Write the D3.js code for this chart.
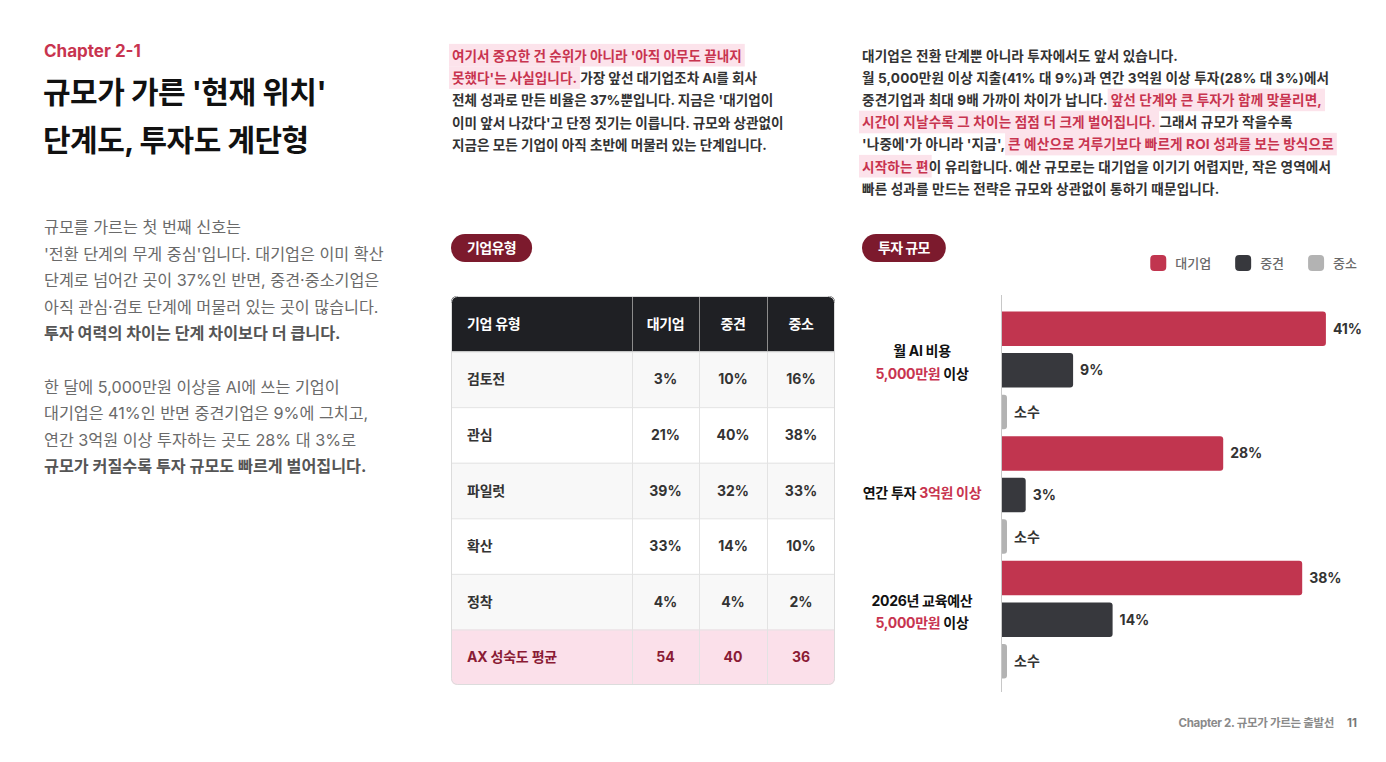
<!DOCTYPE html>
<html lang="ko">
<head>
<meta charset="utf-8">
<title>규모가 가른 '현재 위치'</title>
<script src="https://d3js.org/d3.v7.min.js"></script>
<style>
  body { margin: 0; background: #fff; }
  svg { display: block; font-family: Inter, "Noto Sans CJK KR", sans-serif; }
  text { white-space: pre; }
</style>
</head>
<body>
<svg id="page" width="1386" height="762"></svg>
<script>
// ---- 데이터 ----
var stages = ["검토전", "관심", "파일럿", "확산", "정착"];
var firmTypes = ["대기업", "중견", "중소"];
var shareLarge = [3, 21, 39, 33, 4];
var shareMid = [10, 40, 32, 14, 4];
var shareSmall = [16, 38, 33, 10, 2];
var maturityAvg = [54, 40, 36];

var investItems = ["월 AI 비용 5,000만원 이상", "연간 투자 3억원 이상", "2026년 교육예산 5,000만원 이상"];
var investLarge = [41, 28, 38];
var investMid = [9, 3, 14];
var investSmall = [null, null, null]; // 원문 표기: "소수"

var colors = { "대기업": "#C1354F", "중견": "#37383D", "중소": "#B3B3B3" };
var RED = "#C8344F", WINE = "#7C1A2D";

var svg = d3.select("#page");

// 스타일: n 일반, b 굵게, h 강조(배경), r 빨강
var styles = {
  n: { weight: 400, fill: "#6a6a6a" },
  b: { weight: 700, fill: "#555" },
  m: { weight: 700, fill: "#333" },
  h: { weight: 700, fill: RED, bg: "#FCE3EB" },
  k: { weight: 700, fill: "#111" },
  r: { weight: 700, fill: RED }
};

// 한 줄에 여러 스타일 조각을 이어 붙인다
function richLine(g, x, y, segs, size, ls) {
  var cx = x;
  segs.forEach(function(s) {
    var st = styles[s[1]];
    var t = g.append("text")
      .attr("x", cx).attr("y", y)
      .attr("font-size", size)
      .attr("font-weight", st.weight)
      .attr("letter-spacing", ls || 0)
      .attr("fill", st.fill)
      .text(s[0]);
    var w = t.node().getComputedTextLength();
    if (st.bg) {
      g.insert("rect", ":first-child")
        .attr("x", cx - 3).attr("y", y - size - 3)
        .attr("width", w + 6).attr("height", size + 9)
        .attr("fill", st.bg);
    }
    cx += w;
  });
  return cx - x;
}

function block(x, y0, lh, lines, size, ls) {
  var g = svg.append("g");
  lines.forEach(function(segs, i) {
    if (segs) richLine(g, x, y0 + i * lh, segs, size, ls);
  });
  return g;
}

// ---- 왼쪽 제목과 본문 ----
svg.append("text").attr("x", 44).attr("y", 57)
  .attr("font-size", 17).attr("font-weight", 700).attr("fill", RED)
  .text("Chapter 2-1");
svg.append("text").attr("x", 43).attr("y", 103)
  .attr("font-size", 30).attr("font-weight", 700).attr("fill", "#111").attr("letter-spacing", -0.5)
  .text("규모가 가른 '현재 위치'");
svg.append("text").attr("x", 43).attr("y", 151)
  .attr("font-size", 30).attr("font-weight", 700).attr("fill", "#111").attr("letter-spacing", -0.5)
  .text("단계도, 투자도 계단형");

block(44, 233, 26.6, [
  [["규모를 가르는 첫 번째 신호는", "n"]],
  [["'전환 단계의 무게 중심'입니다. 대기업은 이미 확산", "n"]],
  [["단계로 넘어간 곳이 37%인 반면, 중견·중소기업은", "n"]],
  [["아직 관심·검토 단계에 머물러 있는 곳이 많습니다.", "n"]],
  [["투자 여력의 차이는 단계 차이보다 더 큽니다.", "b"]],
  null,
  [["한 달에 5,000만원 이상을 AI에 쓰는 기업이", "n"]],
  [["대기업은 41%인 반면 중견기업은 9%에 그치고,", "n"]],
  [["연간 3억원 이상 투자하는 곳도 28% 대 3%로", "n"]],
  [["규모가 커질수록 투자 규모도 빠르게 벌어집니다.", "b"]]
], 16.2, 0);

// ---- 가운데 / 오른쪽 상단 본문 ----
block(452, 60.5, 22.4, [
  [["여기서 중요한 건 순위가 아니라 '아직 아무도 끝내지", "h"]],
  [["못했다'는 사실입니다.", "h"], [" 가장 앞선 대기업조차 AI를 회사", "m"]],
  [["전체 성과로 만든 비율은 37%뿐입니다. 지금은 '대기업이", "m"]],
  [["이미 앞서 나갔다'고 단정 짓기는 이릅니다. 규모와 상관없이", "m"]],
  [["지금은 모든 기업이 아직 초반에 머물러 있는 단계입니다.", "m"]]
], 13.6, 0);

block(862, 61, 22.1, [
  [["대기업은 전환 단계뿐 아니라 투자에서도 앞서 있습니다.", "m"]],
  [["월 5,000만원 이상 지출(41% 대 9%)과 연간 3억원 이상 투자(28% 대 3%)에서", "m"]],
  [["중견기업과 최대 9배 가까이 차이가 납니다. ", "m"], ["앞선 단계와 큰 투자가 함께 맞물리면,", "h"]],
  [["시간이 지날수록 그 차이는 점점 더 크게 벌어집니다.", "h"], [" 그래서 규모가 작을수록", "m"]],
  [["'나중에'가 아니라 '지금', ", "m"], ["큰 예산으로 겨루기보다 빠르게 ROI 성과를 보는 방식으로", "h"]],
  [["시작하는 편", "h"], ["이 유리합니다. 예산 규모로는 대기업을 이기기 어렵지만, 작은 영역에서", "m"]],
  [["빠른 성과를 만드는 전략은 규모와 상관없이 통하기 때문입니다.", "m"]]
], 13.6, 0.15);

// ---- 알약 라벨 ----
function pill(x, label) {
  var g = svg.append("g");
  var t = g.append("text").attr("x", x + 16).attr("y", 253)
    .attr("font-size", 14).attr("font-weight", 700).attr("fill", "#fff")
    .attr("letter-spacing", -0.6).text(label);
  var w = t.node().getComputedTextLength();
  g.insert("rect", "text").attr("x", x).attr("y", 234)
    .attr("width", w + 32).attr("height", 28).attr("rx", 14).attr("fill", WINE);
}
pill(451, "기업유형");
pill(862, "투자 규모");

// ---- 표 ----
var colX = [451, 632, 699, 767, 835];
var rowKeys = ["head"].concat(stages).concat(["avg"]);
var ry = d3.scaleBand().domain(rowKeys).range([296, 685]);
var tableRows = stages.map(function(s, i) {
  return { key: s, label: s, vals: [shareLarge[i], shareMid[i], shareSmall[i]].map(function(v) { return v + "%"; }) };
});
tableRows.push({ key: "avg", label: "AX 성숙도 평균", vals: maturityAvg.map(String) });

var tbl = svg.append("g");
svg.append("defs").append("clipPath").attr("id", "tclip")
  .append("rect").attr("x", colX[0]).attr("y", 296)
  .attr("width", colX[4] - colX[0]).attr("height", 389).attr("rx", 6);
var tb = tbl.append("g").attr("clip-path", "url(#tclip)");

// 헤더
tb.append("rect").attr("x", colX[0]).attr("y", ry("head"))
  .attr("width", colX[4] - colX[0]).attr("height", ry.bandwidth()).attr("fill", "#1F2024");
var headers = ["기업 유형"].concat(firmTypes);
headers.forEach(function(h, i) {
  tb.append("text")
    .attr("x", i === 0 ? colX[0] + 16 : (colX[i] + colX[i + 1]) / 2)
    .attr("y", ry("head") + ry.bandwidth() / 2 + 5)
    .attr("text-anchor", i === 0 ? "start" : "middle")
    .attr("font-size", 14).attr("font-weight", 700).attr("fill", "#fff")
    .attr("letter-spacing", -0.3).text(h);
});

// 본문 행
var rowG = tb.selectAll("g.row").data(tableRows).join("g").attr("class", "row");
rowG.append("rect")
  .attr("x", colX[0]).attr("y", function(d) { return ry(d.key); })
  .attr("width", colX[4] - colX[0]).attr("height", ry.bandwidth())
  .attr("fill", function(d, i) { return d.key === "avg" ? "#FBE0EA" : (i % 2 === 0 ? "#F8F8F8" : "#fff"); });
rowG.append("line")
  .attr("x1", colX[0]).attr("x2", colX[4])
  .attr("y1", function(d) { return ry(d.key) + 0.5; }).attr("y2", function(d) { return ry(d.key) + 0.5; })
  .attr("stroke", "#E3E3E3");
rowG.append("text")
  .attr("x", colX[0] + 16)
  .attr("y", function(d) { return ry(d.key) + ry.bandwidth() / 2 + 5; })
  .attr("font-size", 14).attr("font-weight", 700).attr("letter-spacing", -0.2)
  .attr("fill", function(d) { return d.key === "avg" ? "#8A1B35" : "#333"; })
  .text(function(d) { return d.label; });
rowG.each(function(d) {
  var g = d3.select(this);
  d.vals.forEach(function(v, j) {
    g.append("text")
      .attr("x", (colX[j + 1] + colX[j + 2]) / 2)
      .attr("y", ry(d.key) + ry.bandwidth() / 2 + 5)
      .attr("text-anchor", "middle")
      .attr("font-size", 14).attr("font-weight", 700)
      .attr("fill", d.key === "avg" ? "#8A1B35" : "#333")
      .text(v);
  });
});
// 세로 구분선
[1, 2, 3].forEach(function(i) {
  tb.append("line").attr("x1", colX[i] + 0.5).attr("x2", colX[i] + 0.5)
    .attr("y1", ry("head")).attr("y2", ry("head") + ry.bandwidth()).attr("stroke", "#8C8C8C");
  tb.append("line").attr("x1", colX[i] + 0.5).attr("x2", colX[i] + 0.5)
    .attr("y1", ry("head") + ry.bandwidth()).attr("y2", 685).attr("stroke", "#E3E3E3");
});
tbl.append("rect").attr("x", colX[0] + 0.5).attr("y", 296.5)
  .attr("width", colX[4] - colX[0] - 1).attr("height", 388).attr("rx", 6)
  .attr("fill", "none").attr("stroke", "#DCDCDC");

// ---- 막대 그래프 ----
var bars = [];
investItems.forEach(function(item, i) {
  bars.push({ key: i + "-대기업", group: i, type: "대기업", v: investLarge[i] });
  bars.push({ key: i + "-중견", group: i, type: "중견", v: investMid[i] });
  bars.push({ key: i + "-중소", group: i, type: "중소", v: investSmall[i] });
});

var x = d3.scaleLinear().domain([0, 50]).range([1002, 1397]);
var y = d3.scaleBand().domain(bars.map(function(d) { return d.key; }))
  .range([308, 682]).paddingInner(0.17).paddingOuter(0.085);

svg.select("defs").append("clipPath").attr("id", "bclip")
  .append("rect").attr("x", x(0)).attr("y", 280).attr("width", 400).attr("height", 420);

function barEnd(d) { return d.v == null ? x(0) + 5 : x(d.v); }

var bg = svg.append("g");
bg.append("g").attr("clip-path", "url(#bclip)")
  .selectAll("rect").data(bars).join("rect")
  .attr("x", x(0) - 6)
  .attr("y", function(d) { return y(d.key); })
  .attr("width", function(d) { return barEnd(d) - x(0) + 6; })
  .attr("height", y.bandwidth())
  .attr("rx", 3)
  .attr("fill", function(d) { return colors[d.type]; });

bg.selectAll("text.val").data(bars).join("text").attr("class", "val")
  .attr("x", function(d) { return barEnd(d) + 7; })
  .attr("y", function(d) { return y(d.key) + y.bandwidth() / 2 + 5; })
  .attr("font-size", 14).attr("font-weight", 700).attr("fill", "#333")
  .text(function(d) { return d.v == null ? "소수" : d.v + "%"; });

bg.append("line").attr("x1", x(0) - 0.5).attr("x2", x(0) - 0.5)
  .attr("y1", 295).attr("y2", 692).attr("stroke", "#C8C8C8");

// 그룹 라벨 (가운데 정렬)
var groupLines = [
  [[["월 AI 비용", "k"]], [["5,000만원", "r"], [" 이상", "k"]]],
  [[["연간 투자 ", "k"], ["3억원 이상", "r"]]],
  [[["2026년 교육예산", "k"]], [["5,000만원", "r"], [" 이상", "k"]]]
];
groupLines.forEach(function(lines, i) {
  var mid = y(i + "-중견") + y.bandwidth() / 2;
  var y0 = lines.length === 1 ? mid + 3 : mid - 14;
  lines.forEach(function(segs, j) {
    var g = svg.append("g");
    var w = richLine(g, 0, y0 + j * 22.5, segs, 14, -0.3);
    g.attr("transform", "translate(" + (922 - w / 2) + ",0)");
  });
});

// 범례
var lg = svg.append("g");
var lx = 1357;
firmTypes.slice().reverse().forEach(function(t) {
  var tx = lg.append("text").attr("y", 268).attr("font-size", 13).attr("fill", "#6a6a6a")
    .attr("font-weight", 500).text(t);
  var w = tx.node().getComputedTextLength();
  tx.attr("x", lx - w);
  lg.append("rect").attr("x", lx - w - 25).attr("y", 255).attr("width", 16).attr("height", 16)
    .attr("rx", 4).attr("fill", colors[t]);
  lx = lx - w - 25 - 24;
});

// ---- 꼬리말 ----
svg.append("text").attr("x", 1334).attr("y", 727).attr("text-anchor", "end")
  .attr("font-size", 11.5).attr("font-weight", 700).attr("fill", "#8a8a8a").attr("letter-spacing", -0.3)
  .text("Chapter 2. 규모가 가르는 출발선");
svg.append("text").attr("x", 1357).attr("y", 727).attr("text-anchor", "end")
  .attr("font-size", 11.5).attr("font-weight", 700).attr("fill", "#777")
  .text("11");
</script>
</body>
</html>
